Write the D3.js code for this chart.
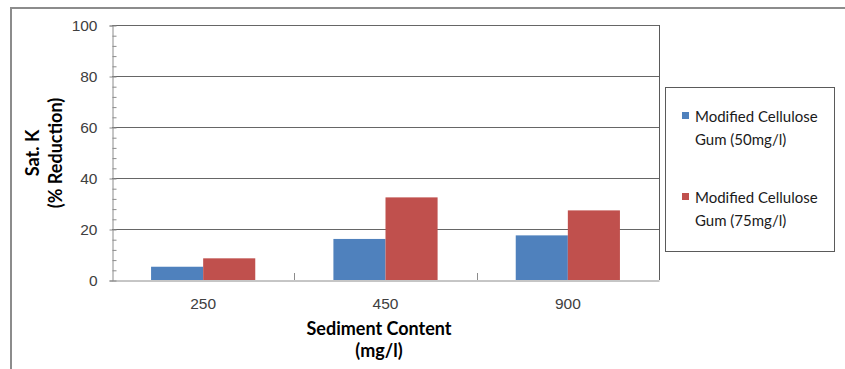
<!DOCTYPE html>
<html>
<head>
<meta charset="utf-8">
<script src="https://cdn.jsdelivr.net/npm/d3@7"></script>
<style>
  body { margin: 0; background: #fff; }
  svg { display: block; font-family: Lato, "Open Sans", sans-serif; }
  .tick-label { font-size: 15.5px; fill: #404040; }
  .axis-title { font-size: 18px; font-weight: bold; fill: #000; }
  .legend-text { font-size: 15px; fill: #1a1a1a; }
</style>
</head>
<body>
<svg id="chart" width="845" height="369"></svg>
<script>
"use strict";

var categories = ["250", "450", "900"];
var seriesNames = ["Modified Cellulose Gum (50mg/l)", "Modified Cellulose Gum (75mg/l)"];
var gum50Values = [5.2, 16.1, 17.5];
var gum75Values = [8.5, 32.4, 27.3];
var yTickValues = [0, 20, 40, 60, 80, 100];
var seriesColors = ["#4F81BD", "#C0504D"];

var svg = d3.select("#chart");
var plot = { left: 112, right: 659, top: 25, bottom: 280 };

// outer chart frame (runs off the right and bottom of the picture)
svg.append("rect")
  .attr("x", 11).attr("y", 8)
  .attr("width", 900).attr("height", 420)
  .attr("fill", "none")
  .attr("stroke", "#8c8c8c")
  .attr("stroke-width", 2);

var x = d3.scaleBand().domain(categories).range([plot.left, plot.right]);
var bw = x.bandwidth();
// Excel style gap width 150%: two bars + 1.5 bar gap per category
var inset = bw * 0.75 / 3.5;
var xInner = d3.scaleBand().domain(d3.range(seriesNames.length)).range([inset, bw - inset]);
var y = d3.scaleLinear().domain([0, 100]).range([plot.bottom, plot.top]);

// gridlines
svg.append("g")
  .selectAll("line")
  .data(yTickValues.filter(function (d) { return d > 0; }))
  .enter()
  .append("line")
  .attr("x1", plot.left).attr("x2", plot.right)
  .attr("y1", function (d) { return y(d) + 0.5; })
  .attr("y2", function (d) { return y(d) + 0.5; })
  .attr("stroke", "#666")
  .attr("stroke-width", 1.2);

// right border of plot area
svg.append("line")
  .attr("x1", plot.right + 0.5).attr("x2", plot.right + 0.5)
  .attr("y1", plot.top).attr("y2", plot.bottom)
  .attr("stroke", "#5a5a5a");

// bars
var rows = categories.map(function (c, i) { return [gum50Values[i], gum75Values[i]]; });
svg.append("g")
  .selectAll("g")
  .data(rows)
  .enter()
  .append("g")
  .attr("transform", function (d, i) { return "translate(" + x(categories[i]) + ",0)"; })
  .selectAll("rect")
  .data(function (d) { return d; })
  .enter()
  .append("rect")
  .attr("x", function (d, i) { return xInner(i); })
  .attr("y", function (d) { return y(d); })
  .attr("width", xInner.bandwidth())
  .attr("height", function (d) { return y(0) - y(d); })
  .attr("fill", function (d, i) { return seriesColors[i]; });

// y axis with labels
var yAxis = svg.append("g")
  .attr("transform", "translate(" + (plot.left + 0.5) + ",0.5)")
  .call(d3.axisLeft(y).tickValues(yTickValues).tickSize(3).tickPadding(12));
yAxis.select(".domain").attr("stroke", "#8c8c8c");
yAxis.selectAll(".tick line").attr("stroke", "#8c8c8c");
yAxis.selectAll("text").attr("class", "tick-label").attr("font-family", null).attr("font-size", null);

// minor ticks every 4 units
var yMinor = svg.append("g")
  .attr("transform", "translate(" + (plot.left + 0.5) + ",0.5)")
  .call(d3.axisRight(y).tickValues(d3.range(0, 101, 4)).tickSize(4).tickFormat(""));
yMinor.select(".domain").remove();
yMinor.selectAll(".tick line").attr("stroke", "#8c8c8c");

// x axis
var xAxis = svg.append("g")
  .attr("transform", "translate(0," + (plot.bottom + 0.5) + ")")
  .call(d3.axisBottom(x).tickSize(0).tickPadding(17));
xAxis.select(".domain").attr("stroke", "#8c8c8c");
xAxis.selectAll("text").attr("class", "tick-label").attr("font-family", null).attr("font-size", null);

// category boundary tick marks pointing into the plot
svg.append("g")
  .selectAll("line")
  .data(categories.slice(1))
  .enter()
  .append("line")
  .attr("x1", function (d) { return Math.round(x(d)) + 0.5; })
  .attr("x2", function (d) { return Math.round(x(d)) + 0.5; })
  .attr("y1", plot.bottom - 7).attr("y2", plot.bottom)
  .attr("stroke", "#8c8c8c");

// axis titles
var xTitle = svg.append("text")
  .attr("class", "axis-title")
  .attr("text-anchor", "middle");
xTitle.append("tspan").attr("x", 379).attr("y", 335).text("Sediment Content");
xTitle.append("tspan").attr("x", 379).attr("y", 357).text("(mg/l)");

var yTitle = svg.append("text")
  .attr("class", "axis-title")
  .attr("text-anchor", "middle")
  .attr("transform", "translate(0,153) rotate(-90)");
yTitle.append("tspan").attr("x", 0).attr("y", 39).text("Sat. K");
yTitle.append("tspan").attr("x", 0).attr("y", 62).text("(% Reduction)");

// legend
var legend = svg.append("g");
legend.append("rect")
  .attr("x", 665.5).attr("y", 87.5)
  .attr("width", 169).attr("height", 164)
  .attr("fill", "#fff")
  .attr("stroke", "#5a5a5a");

var legendRows = [
  { lines: ["Modified Cellulose", "Gum (50mg/l)"], top: 117 },
  { lines: ["Modified Cellulose", "Gum (75mg/l)"], top: 198 }
];
legendRows.forEach(function (row, i) {
  legend.append("rect")
    .attr("x", 682).attr("y", row.top - 5)
    .attr("width", 7).attr("height", 7)
    .attr("fill", seriesColors[i]);
  var t = legend.append("text").attr("class", "legend-text");
  row.lines.forEach(function (line, j) {
    t.append("tspan")
      .attr("x", 695)
      .attr("y", row.top + 5 + j * 23)
      .text(line);
  });
});
</script>
</body>
</html>
